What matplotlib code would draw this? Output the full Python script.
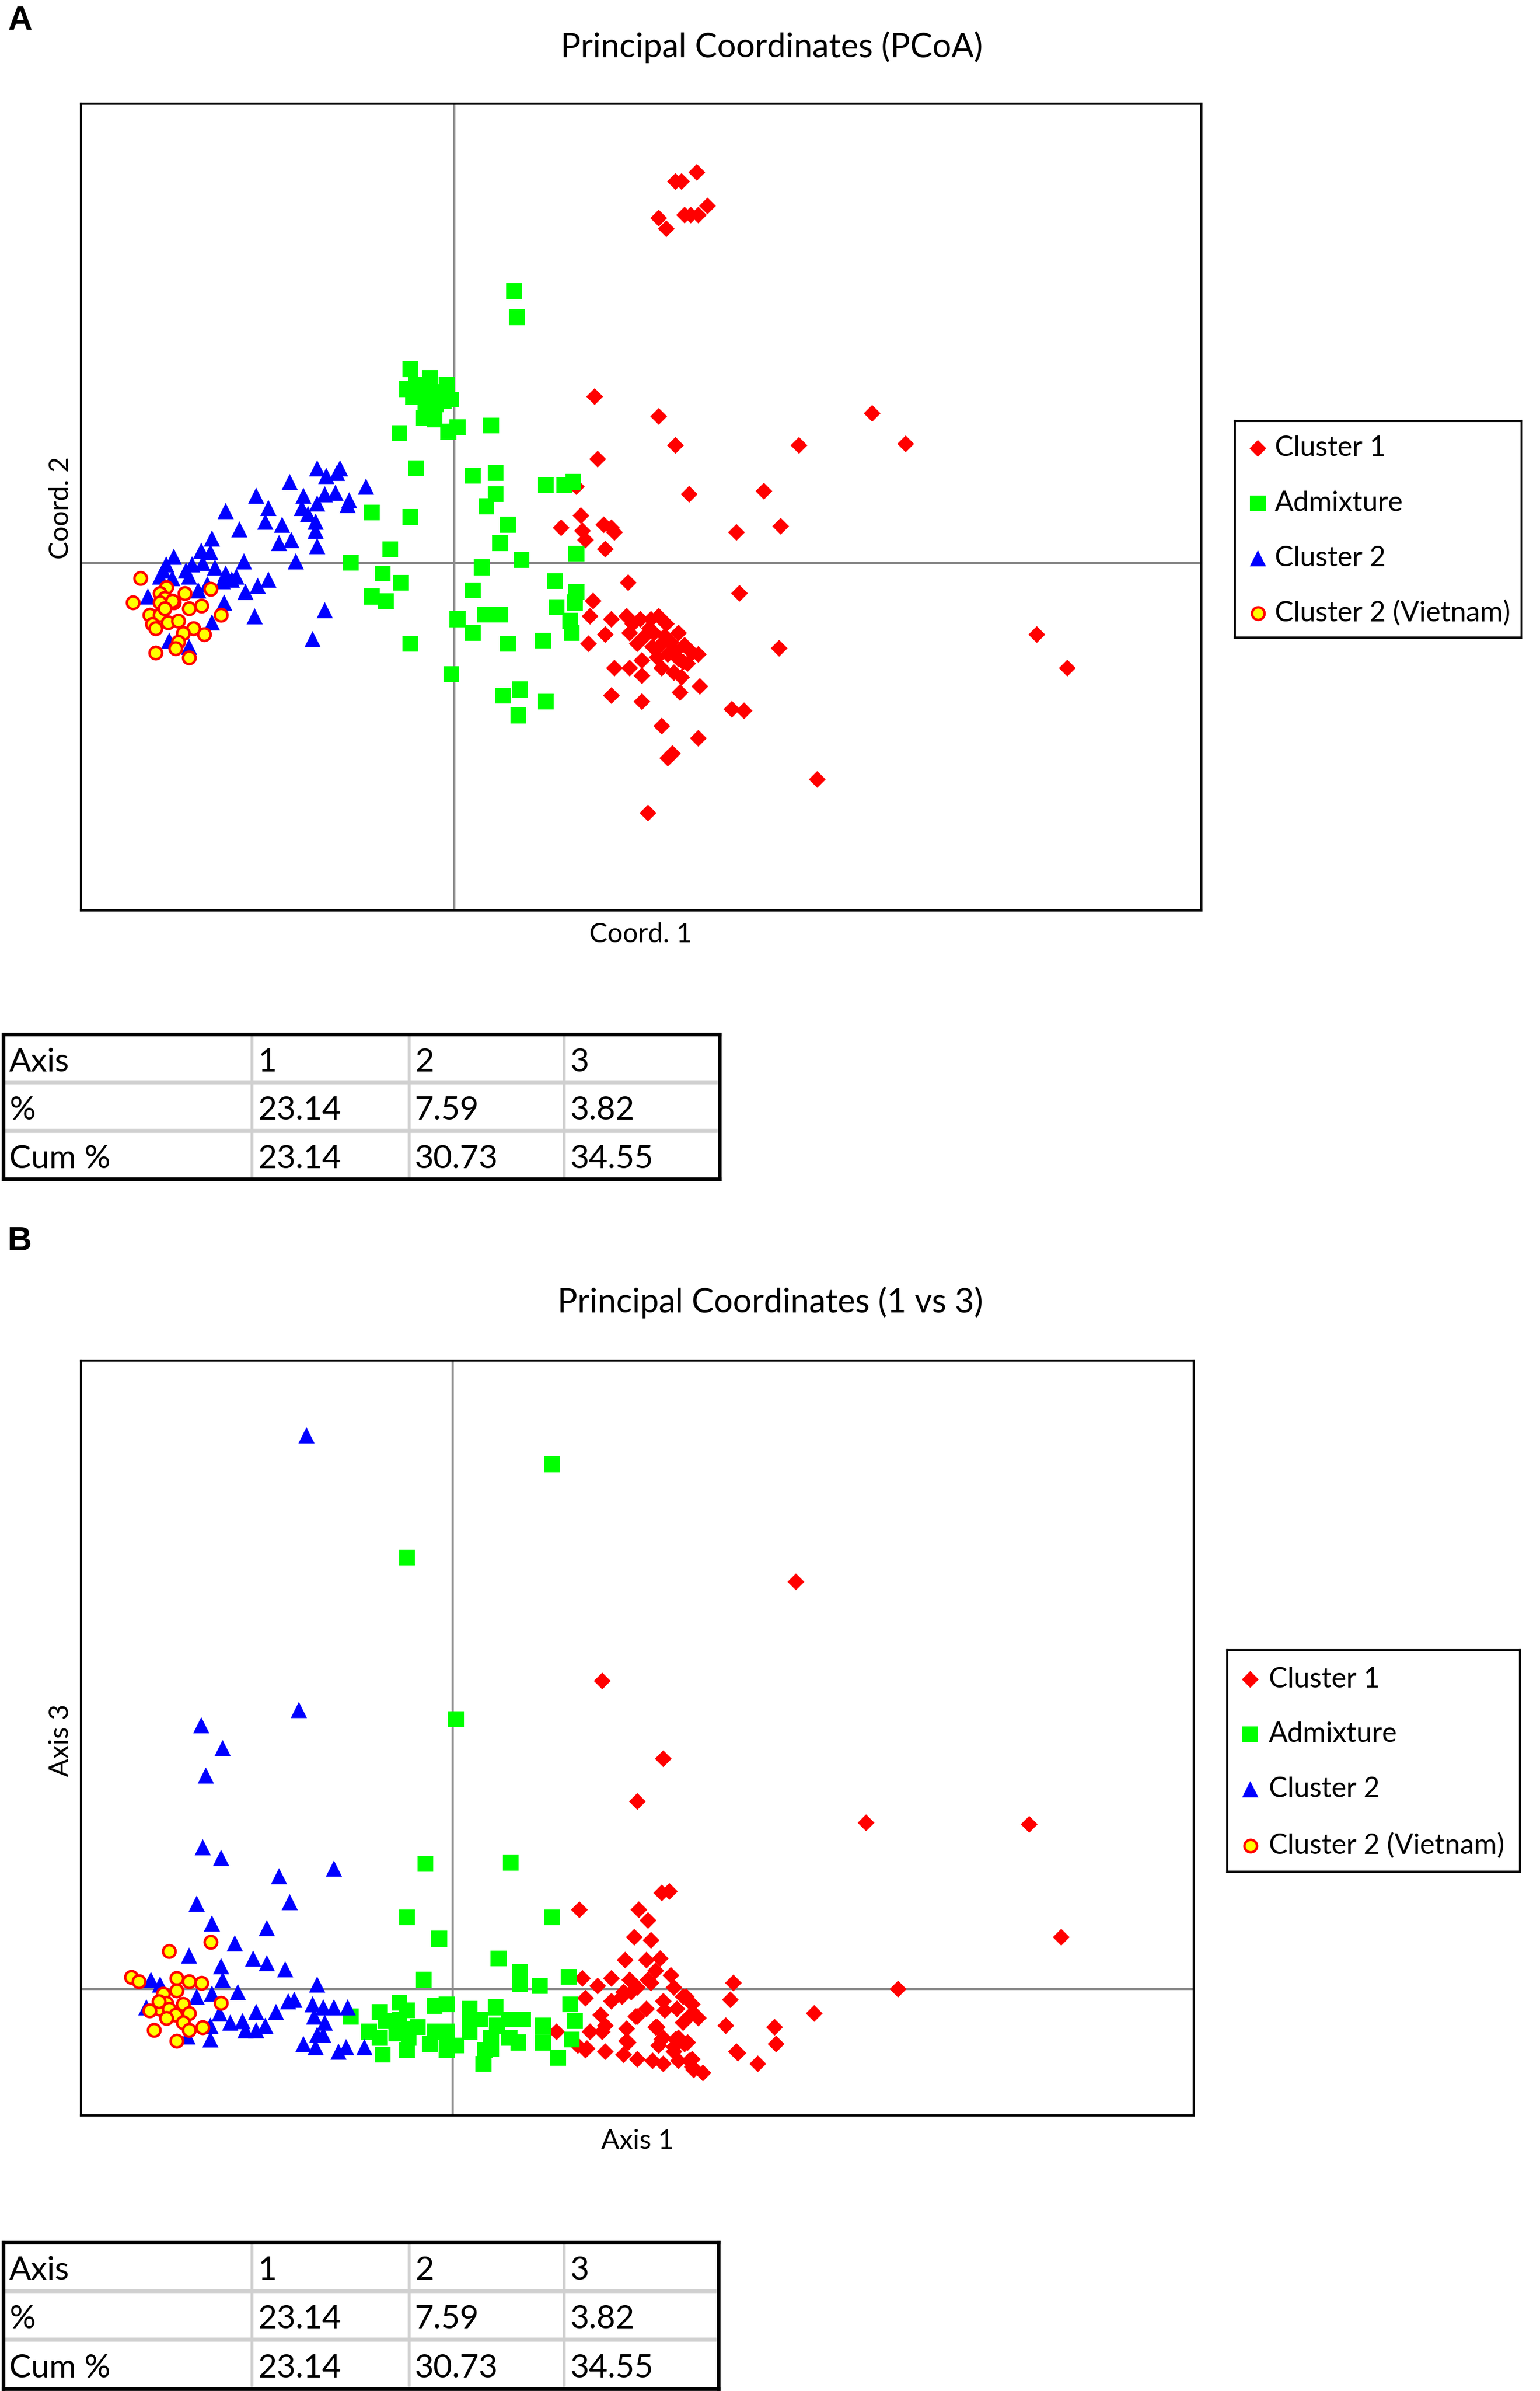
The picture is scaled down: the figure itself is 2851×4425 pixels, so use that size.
import matplotlib.pyplot as plt

plt.rcParams['font.family'] = ['Lato', 'DejaVu Sans']

# ---- panel A: coord 1 vs coord 2 ----
a_c1_x = [1.45, 1.49, 1.59, 1.34, 1.39, 1.51, 1.55, 1.60, 1.66,
          0.92, 1.34, 1.45, 0.94, 0.80, 1.54, 2.03, 2.26, 2.74, 2.96, 1.85, 2.14, 0.83, 0.70, 0.84, 0.98, 1.03, 1.05, 0.86, 0.99,
          1.14, 1.87, 0.91, 0.89, 1.03, 0.99, 0.88, 1.13, 1.17, 1.22, 1.29, 1.34, 1.39, 1.15, 1.24, 1.31, 1.47, 1.20, 1.35, 1.42,
          1.51, 1.56, 1.60, 1.40, 1.47, 1.53, 1.36, 1.44, 1.49, 1.05, 1.15, 1.23, 1.23, 1.61, 1.48, 1.03, 1.23, 1.82, 1.90, 1.36,
          1.60, 1.43, 1.40, 2.13, 3.82, 4.02, 2.38, 1.27, 1.30, 1.38, 1.45, 1.33, 1.28, 1.50]
a_c1_y = [2.50, 2.50, 2.56, 2.26, 2.19, 2.28, 2.28, 2.28, 2.34,
          1.09, 0.96, 0.77, 0.68, 0.50, 0.45, 0.47, 0.77, 0.98, 0.78, 0.20, 0.24, 0.31, 0.23, 0.21, 0.25, 0.23, 0.20, 0.15, 0.09,
          -0.13, -0.20, -0.25, -0.35, -0.37, -0.47, -0.53, -0.35, -0.40, -0.37, -0.37, -0.35, -0.40, -0.46, -0.49, -0.46, -0.46, -0.53, -0.54, -0.52,
          -0.54, -0.59, -0.60, -0.60, -0.63, -0.66, -0.69, -0.72, -0.75, -0.69, -0.69, -0.64, -0.74, -0.81, -0.85, -0.87, -0.91, -0.96, -0.97, -1.07,
          -1.15, -1.25, -1.28, -0.56, -0.47, -0.69, -1.42, -1.64, -0.55, -0.48, -0.58, -0.62, -0.43, -0.65]

a_adm_x = [0.39, 0.41, -0.29, -0.16, -0.05, -0.31, -0.22, -0.17, -0.27, -0.07,
           -0.02, -0.12, -0.20, -0.13, 0.02, -0.04, -0.36, 0.24, -0.25, 0.12,
           0.27, 0.27, 0.21, 0.60, 0.72, 0.78, -0.54, -0.29, 0.35, 0.30,
           -0.42, 0.80, -0.68, 0.18, 0.44, -0.47, -0.35, 0.66, 0.12, -0.54,
           -0.45, 0.80, 0.79, 0.67, 0.20, 0.30, 0.02, 0.76, 0.77, 0.12,
           -0.29, 0.35, 0.58, -0.02, 0.43, 0.32, 0.60, 0.42, -0.25, -0.10, -0.19]
a_adm_y = [1.78, 1.61, 1.27, 1.21, 1.17, 1.14, 1.13, 1.11, 1.09, 1.06,
           1.07, 1.04, 0.95, 0.94, 0.89, 0.86, 0.85, 0.90, 0.62, 0.57,
           0.59, 0.45, 0.37, 0.51, 0.51, 0.53, 0.33, 0.30, 0.25, 0.13,
           0.09, 0.06, 0.00, -0.03, 0.02, -0.07, -0.13, -0.12, -0.18, -0.22,
           -0.25, -0.19, -0.26, -0.29, -0.34, -0.34, -0.37, -0.38, -0.46, -0.46,
           -0.53, -0.53, -0.51, -0.73, -0.83, -0.87, -0.91, -1.00, 1.17, 1.12, 1.02]

a_c2_x = [-0.90, -0.84, -0.77, -0.75, -1.08, -0.58, -1.30, -0.99, -0.85, -0.78,
          -0.90, -0.69, -0.70, -1.50, -1.22, -1.00, -0.96, -0.91, -1.24, -1.13,
          -1.41, -0.91, -1.59, -1.15, -1.07, -0.90, -1.66, -1.60, -1.84, -1.38,
          -1.04, -1.89, -1.72, -1.65, -1.57, -1.91, -1.76, -1.50, -1.43, -1.93,
          -1.85, -1.74, -1.52, -1.46, -1.22, -1.29, -1.62, -1.37, -1.68, -2.01,
          -1.51, -0.85, -1.31, -1.59, -0.93, -1.87, -1.74]
a_c2_y = [0.62, 0.57, 0.59, 0.62, 0.53, 0.50, 0.44, 0.44, 0.45, 0.46,
          0.39, 0.41, 0.38, 0.34, 0.36, 0.36, 0.32, 0.27, 0.27, 0.25,
          0.22, 0.21, 0.16, 0.13, 0.15, 0.11, 0.08, 0.07, 0.04, 0.01,
          0.01, -0.01, -0.01, 0.00, -0.03, -0.05, -0.05, -0.07, -0.09, -0.09,
          -0.10, -0.09, -0.12, -0.11, -0.11, -0.15, -0.14, -0.19, -0.18, -0.22,
          -0.26, -0.31, -0.35, -0.39, -0.50, -0.51, -0.55]

a_vn_x = [-2.06, -2.11, -1.89, -1.93, -1.90, -1.77, -1.84, -1.93, -1.60, -1.66,
          -1.74, -2.00, -1.93, -1.53, -1.98, -1.96, -1.88, -1.81, -1.71, -1.78,
          -1.64, -1.81, -1.83, -1.96, -1.74, -1.85, -1.90]
a_vn_y = [-0.10, -0.26, -0.16, -0.20, -0.23, -0.20, -0.26, -0.26, -0.17, -0.28,
          -0.30, -0.34, -0.34, -0.34, -0.40, -0.43, -0.39, -0.38, -0.43, -0.46,
          -0.47, -0.52, -0.56, -0.59, -0.62, -0.25, -0.30]

# ---- panel B: axis 1 vs axis 3 ----
b_c1_x = [2.25, 0.98, 1.38, 1.21, 2.71, 3.78, 3.99, 2.92,
          1.37, 1.42, 0.83, 1.22, 1.28, 1.19, 1.30, 1.13, 1.27, 1.36,
          1.33, 0.85, 0.95, 1.04, 1.16, 1.21, 1.30, 1.43, 1.45, 1.12,
          1.84, 0.87, 1.04, 1.82, 1.53, 1.38, 1.27, 1.20, 1.47, 1.58,
          1.61, 0.97, 1.51, 1.34, 1.14, 0.98, 0.90, 0.68, 1.79, 2.11,
          2.37, 2.12, 0.88, 1.14, 1.37, 1.48, 1.54, 1.00, 1.12, 1.21,
          1.31, 1.38, 1.48, 1.57, 1.86, 2.00, 1.58, 1.64, 1.45, 0.82,
          1.11, 1.17, 1.51, 1.21, 1.55, 1.00, 1.33, 1.38, 1.46, 1.52,
          1.15, 0.87, 1.57, 1.35, 1.45, 1.55, 1.39, 1.57, 1.28, 1.87]
b_c1_y = [2.67, 2.02, 1.51, 1.23, 1.09, 1.08, 0.34, 0.00,
          0.63, 0.64, 0.52, 0.52, 0.45, 0.34, 0.32, 0.19, 0.19, 0.20,
          0.12, 0.07, 0.02, 0.07, 0.06, 0.01, 0.04, 0.09, 0.01, -0.02,
          0.04, -0.06, -0.08, -0.07, -0.05, -0.08, -0.13, -0.18, -0.13, -0.16,
          -0.19, -0.17, -0.22, -0.25, -0.26, -0.28, -0.28, -0.28, -0.24, -0.25,
          -0.16, -0.36, -0.39, -0.34, -0.33, -0.32, -0.35, -0.41, -0.43, -0.46,
          -0.47, -0.49, -0.47, -0.46, -0.41, -0.49, -0.53, -0.55, -0.38, -0.37,
          -0.05, -0.02, -0.05, -0.18, -0.18, -0.24, -0.25, -0.32, -0.33, -0.36,
          -0.35, -0.40, -0.51, -0.37, -0.41, -0.47, -0.14, -0.10, 0.06, -0.42]

b_adm_x = [-0.30, 0.02, 0.65,
           -0.18, 0.38, -0.30, 0.65, -0.09, 0.30, 0.44, -0.19, 0.44, 0.57,
           0.76, -0.35, -0.48, -0.30, -0.12, -0.04, 0.11, 0.28, 0.41, -0.67,
           -0.55, -0.44, -0.37, -0.29, -0.23, -0.12, -0.04, 0.02, 0.11, 0.18,
           0.25, 0.29, 0.43, 0.59, 0.59, 0.77, 0.80, 0.78, -0.46, -0.30,
           -0.15, 0.20, -0.04, 0.69, 0.25, 0.37, -0.35,
           0.21, 0.37, 0.46, -0.48, 0.11, -0.04, -0.30]
b_adm_y = [2.83, 1.77, 3.44,
           0.82, 0.83, 0.47, 0.47, 0.33, 0.20, 0.11, 0.06, 0.03, 0.02,
           0.08, -0.09, -0.15, -0.14, -0.11, -0.10, -0.13, -0.12, -0.20, -0.18,
           -0.28, -0.21, -0.29, -0.32, -0.25, -0.28, -0.33, -0.37, -0.28, -0.20,
           -0.32, -0.24, -0.35, -0.24, -0.35, -0.10, -0.21, -0.33, -0.43, -0.40,
           -0.36, -0.49, -0.40, -0.45, -0.39, -0.20, -0.20,
           -0.40, -0.32, -0.20, -0.32, -0.20, -0.28, -0.26]

b_c2_x = [-0.96, -1.01, -1.65, -1.51, -1.62, -1.64, -1.52, -1.14, -0.78, -1.07,
          -1.68, -1.58, -1.22, -1.43, -1.73, -1.31, -1.22, -1.52, -1.10, -1.51,
          -1.98, -1.92, -0.89, -1.41, -1.58, -1.68, -1.08, -1.04, -0.92, -0.85,
          -0.78, -0.69, -2.01, -1.29, -1.16, -1.53, -0.91, -1.38, -1.46, -0.84,
          -1.59, -1.23, -1.36, -1.29, -0.89, -0.85, -1.59, -0.98, -0.90, -0.70,
          -0.75, -0.58, -1.74]
b_c2_y = [3.63, 1.83, 1.73, 1.58, 1.40, 0.93, 0.86, 0.74, 0.79, 0.57,
          0.56, 0.43, 0.40, 0.30, 0.22, 0.20, 0.17, 0.15, 0.13, 0.06,
          0.06, 0.03, 0.03, -0.02, -0.03, -0.05, -0.08, -0.07, -0.10, -0.12,
          -0.12, -0.12, -0.12, -0.15, -0.15, -0.16, -0.18, -0.21, -0.22, -0.22,
          -0.24, -0.24, -0.27, -0.27, -0.30, -0.30, -0.33, -0.36, -0.38, -0.38,
          -0.41, -0.38, -0.31]

b_vn_x = [-1.86, -1.59, -2.11, -2.06, -1.81, -1.73, -1.65, -1.90, -1.81, -1.77,
          -1.88, -1.92, -1.99, -1.86, -1.73, -1.82, -1.88, -1.77, -1.73, -1.64,
          -1.96, -1.52, -1.81, -1.93]
b_vn_y = [0.25, 0.31, 0.08, 0.05, 0.07, 0.05, 0.04, -0.03, -0.01, -0.10,
          -0.09, -0.13, -0.14, -0.13, -0.16, -0.17, -0.19, -0.22, -0.27, -0.25,
          -0.27, -0.09, -0.34, -0.08]

labels = ["Cluster 1", "Admixture", "Cluster 2", "Cluster 2 (Vietnam)"]
axis_names = ["1", "2", "3"]
pct = [23.14, 7.59, 3.82]
cum_pct = [23.14, 30.73, 34.55]

# marker styles per group (same order as labels)
styles = [
    dict(marker="D", s=28, c="#ff0000", edgecolors="none"),
    dict(marker="s", s=50, c="#00ff00", edgecolors="none"),
    dict(marker="^", s=52, c="#0000ff", edgecolors="none"),
    dict(marker="o", s=31, c="#ffff00", edgecolors="#ff0000", linewidths=1.1),
]

# layout grid of the reference (px)
W, H = 1010.0, 1567.5


def box(x0, y0, x1, y1):
    return [x0 / W, 1 - y1 / H, (x1 - x0) / W, (y1 - y0) / H]


def draw_panel(fig, rect, xs, ys, xlim, ylim):
    ax = fig.add_axes(rect)
    ax.axhline(0, color="#8c8c8c", lw=1.0, zorder=1)
    ax.axvline(0, color="#8c8c8c", lw=1.0, zorder=1)
    for st, x, y in zip(styles, xs, ys):
        ax.scatter(x, y, zorder=2, **st)
    ax.set_xlim(*xlim)
    ax.set_ylim(*ylim)
    ax.set_xticks([])
    ax.set_yticks([])
    for sp in ax.spines.values():
        sp.set_linewidth(1.0)
    return ax


def draw_legend(fig, x0, y0, x1, y1, rows, mx, tx):
    ax = fig.add_axes(box(x0, y0, x1, y1))
    w, h = x1 - x0, y1 - y0
    ax.set_xlim(0, w)
    ax.set_ylim(h, 0)
    ax.set_xticks([])
    ax.set_yticks([])
    for sp in ax.spines.values():
        sp.set_linewidth(1.0)
    for st, lab, ry in zip(styles, labels, rows):
        ax.scatter([mx], [ry], **st)
        ax.text(tx, ry, lab, va="center", ha="left", fontsize=12.4)


def draw_table(fig, x0, y0, x1, y1):
    ax = fig.add_axes(box(x0, y0, x1, y1))
    w, h = x1 - x0, y1 - y0
    ax.set_xlim(0, w)
    ax.set_ylim(h, 0)
    ax.set_xticks([])
    ax.set_yticks([])
    for sp in ax.spines.values():
        sp.set_linewidth(1.6)
    cols = [0, 163, 266, 368]
    rh = h / 3.0
    for cx in cols[1:]:
        ax.axvline(cx, color="#d0d0d0", lw=1.3)
    for i in (1, 2):
        ax.axhline(i * rh, color="#d0d0d0", lw=1.8)
    rows = [["Axis"] + axis_names,
            ["%"] + ["%.2f" % v for v in pct],
            ["Cum %"] + ["%.2f" % v for v in cum_pct]]
    for r, row in enumerate(rows):
        for c, txt in enumerate(row):
            ax.text(cols[c] + 4, (r + 0.58) * rh, txt, va="center", ha="left", fontsize=14.5)


fig = plt.figure(figsize=(2851 / 300, 4425 / 300), dpi=300)

# panel A
draw_panel(fig, box(53, 68, 788, 597),
           [a_c1_x, a_adm_x, a_c2_x, a_vn_x], [a_c1_y, a_adm_y, a_c2_y, a_vn_y],
           (-2.45, 4.90), (-2.28, 3.01))
fig.text(5 / W, 1 - 13.5 / H, "A", fontsize=15, fontweight="bold",
         family=["Liberation Sans", "DejaVu Sans"], va="center", ha="left")
fig.text(506 / W, 1 - 31 / H, "Principal Coordinates (PCoA)", fontsize=14.8, ha="center", va="center")
fig.text(420 / W, 1 - 613 / H, "Coord. 1", fontsize=12, ha="center", va="center")
fig.text(40 / W, 1 - 333 / H, "Coord. 2", fontsize=12, ha="center", va="center", rotation=90)
draw_legend(fig, 810, 276, 998, 418, [18, 54, 90, 126], 15, 26)
draw_table(fig, 2, 678, 472, 773)

# panel B
draw_panel(fig, box(53, 892, 783, 1387),
           [b_c1_x, b_adm_x, b_c2_x, b_vn_x], [b_c1_y, b_adm_y, b_c2_y, b_vn_y],
           (-2.44, 4.86), (-0.83, 4.12))
fig.text(5 / W, 1 - 814 / H, "B", fontsize=15, fontweight="bold",
         family=["Liberation Sans", "DejaVu Sans"], va="center", ha="left")
fig.text(505 / W, 1 - 854 / H, "Principal Coordinates (1 vs 3)", fontsize=14.8, ha="center", va="center")
fig.text(418 / W, 1 - 1404 / H, "Axis 1", fontsize=12, ha="center", va="center")
fig.text(40 / W, 1 - 1141 / H, "Axis 3", fontsize=12, ha="center", va="center", rotation=90)
draw_legend(fig, 805, 1082, 997, 1227, [19, 55, 91, 128], 15, 27)
draw_table(fig, 2, 1470, 471, 1566)

fig.savefig("out.png", dpi=300)
